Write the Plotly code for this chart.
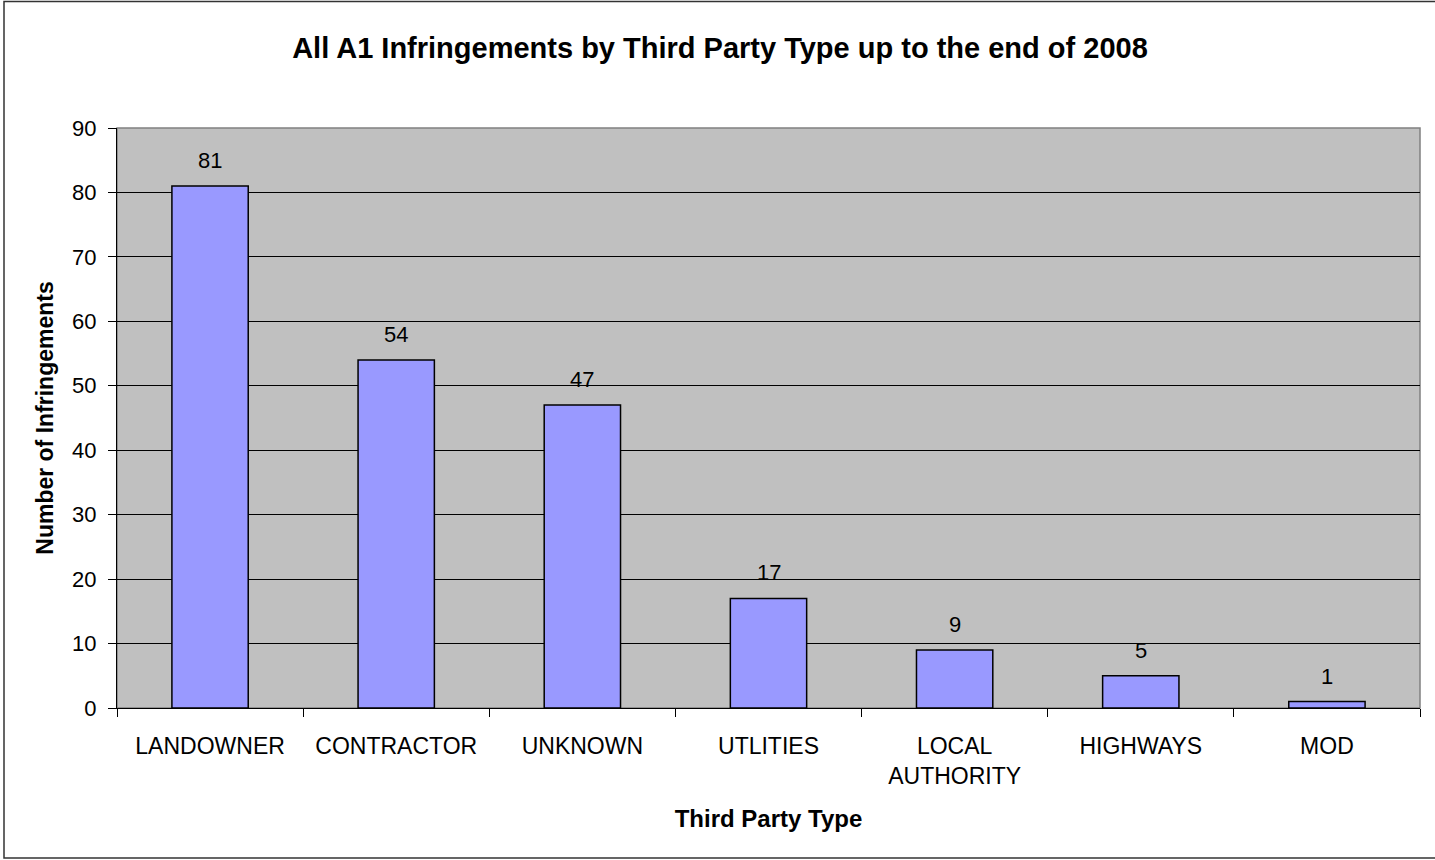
import plotly.graph_objects as go

categories = ["LANDOWNER", "CONTRACTOR", "UNKNOWN", "UTLITIES", "LOCAL<br>AUTHORITY", "HIGHWAYS", "MOD"]
values = [81, 54, 47, 17, 9, 5, 1]
y_ticks = [0, 10, 20, 30, 40, 50, 60, 70, 80, 90]

W, H = 1435, 860
L, R, T, B = 117, 15, 128, 152
pw, ph = W - L - R, H - T - B

FONT = "Liberation Sans, Arial, sans-serif"

fig = go.Figure(go.Bar(
    x=categories, y=values,
    marker=dict(color="#9999FF", line=dict(color="#000000", width=1.5)),
    width=0.41, hoverinfo="x+y",
))

for c, v in zip(categories, values):
    fig.add_annotation(x=c, y=v, text=str(v), showarrow=False, yanchor="bottom",
                       yshift=11, font=dict(family=FONT, size=22, color="#000000"))

fig.update_layout(
    width=W, height=H,
    margin=dict(l=L, r=R, t=T, b=B),
    paper_bgcolor="#FFFFFF", plot_bgcolor="#C0C0C0",
    font=dict(family=FONT, size=22, color="#000000"),
    showlegend=False,
    title=dict(text="<b>All A1 Infringements by Third Party Type up to the end of 2008</b>",
               x=720 / W, xanchor="center", y=1 - 48 / H, yanchor="middle",
               font=dict(family=FONT, size=29, color="#000000")),
    xaxis=dict(
        type="category", tickson="boundaries", ticks="outside", ticklen=8,
        tickcolor="#000000", showline=True, linecolor="#000000", linewidth=1,
        showgrid=False, tickfont=dict(family=FONT, size=23), ticklabelstandoff=17,
        title=dict(text="<b>Third Party Type</b>", font=dict(family=FONT, size=24), standoff=22),
    ),
    yaxis=dict(
        range=[0, 90], tickvals=y_ticks, ticks="outside", ticklen=8,
        tickcolor="#000000", showline=True, linecolor="#000000", linewidth=1,
        showgrid=True, gridcolor="#000000", gridwidth=1, zeroline=False,
        tickfont=dict(family=FONT, size=22), ticklabelstandoff=7,
        title=dict(text="<b>Number of Infringements</b>", font=dict(family=FONT, size=23), standoff=12),
    ),
)

# plot area gray border (top/right)
fig.add_shape(type="rect", xref="paper", yref="paper", x0=0, x1=1, y0=0, y1=1,
              line=dict(color="#808080", width=1.5), layer="below")
# outer chart border
fig.add_shape(type="rect", xref="paper", yref="paper",
              x0=(4 - L) / pw, x1=(1440 - L) / pw,
              y0=-(858 - T - ph) / ph, y1=1 + (T - 1.5) / ph,
              line=dict(color="#333333", width=1.5))

fig.write_html("out.html", config={"displayModeBar": False},
               post_script="document.body.style.margin='0px';")
